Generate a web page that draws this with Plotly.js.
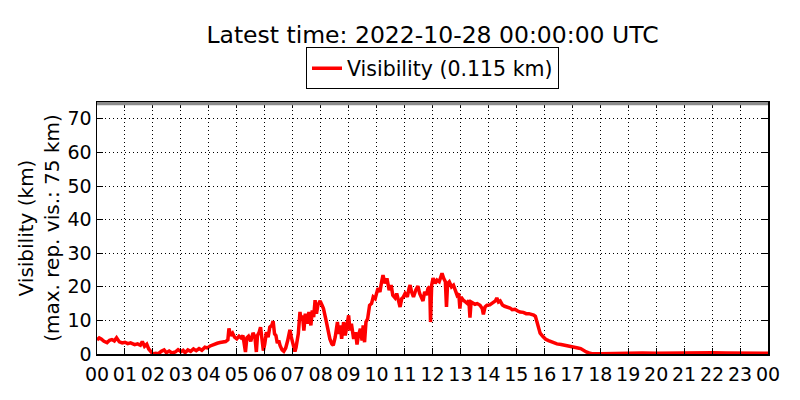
<!DOCTYPE html>
<html>
<head>
<meta charset="utf-8">
<script src="https://cdn.plot.ly/plotly-3.0.1.min.js"></script>
<style>
  body { margin: 0; background: #fff; }
  #grafico { width: 800px; height: 400px; }
</style>
</head>
<body>
<div id="grafico"></div>
<script>
// horas del día (UTC) y visibilidad (km)
const horas = [
  0.00, 0.08, 0.15, 0.25, 0.36, 0.45, 0.53, 0.62, 0.70, 0.80, 0.90, 1.00, 1.10, 1.20, 1.35, 1.45,
  1.55, 1.62, 1.70, 1.78, 1.85, 1.92, 2.00, 2.10, 2.20, 2.30, 2.40, 2.48, 2.58, 2.68, 2.80, 2.90,
  3.00, 3.08, 3.15, 3.25, 3.35, 3.45, 3.55, 3.65, 3.75, 3.86, 3.95, 4.05, 4.20, 4.30, 4.40, 4.50,
  4.60, 4.68, 4.72, 4.78, 4.85, 4.92, 5.00, 5.08, 5.15, 5.22, 5.28, 5.31, 5.36, 5.42, 5.50, 5.58,
  5.65, 5.70, 5.74, 5.80, 5.85, 5.90, 5.95, 6.00, 6.06, 6.12, 6.18, 6.25, 6.30, 6.35, 6.40, 6.45,
  6.50, 6.55, 6.62, 6.68, 6.75, 6.82, 6.90, 6.95, 7.00, 7.04, 7.08, 7.12, 7.20, 7.26, 7.30, 7.35,
  7.40, 7.45, 7.52, 7.58, 7.65, 7.70, 7.75, 7.80, 7.85, 7.90, 7.98, 8.05, 8.10, 8.18, 8.25, 8.33,
  8.40, 8.45, 8.52, 8.60, 8.65, 8.70, 8.75, 8.82, 8.88, 8.95, 9.00, 9.05, 9.10, 9.18, 9.25, 9.30,
  9.35, 9.42, 9.48, 9.52, 9.57, 9.62, 9.68, 9.75, 9.82, 9.88, 9.95, 10.05, 10.12, 10.18, 10.23, 10.30,
  10.37, 10.45, 10.52, 10.58, 10.66, 10.72, 10.78, 10.84, 10.90, 10.96, 11.02, 11.10, 11.16, 11.20, 11.25, 11.32,
  11.40, 11.48, 11.54, 11.60, 11.66, 11.72, 11.78, 11.84, 11.90, 11.93, 11.97, 12.02, 12.10, 12.16, 12.24, 12.30,
  12.34, 12.40, 12.46, 12.50, 12.54, 12.60, 12.68, 12.75, 12.80, 12.88, 12.94, 12.98, 13.02, 13.10, 13.18, 13.25,
  13.30, 13.34, 13.38, 13.45, 13.52, 13.60, 13.70, 13.78, 13.82, 13.88, 13.95, 14.05, 14.15, 14.25, 14.30, 14.36,
  14.42, 14.50, 14.58, 14.66, 14.77, 14.85, 14.95, 15.05, 15.13, 15.25, 15.35, 15.45, 15.55, 15.62, 15.68, 15.74,
  15.80, 15.85, 15.95, 16.05, 16.15, 16.30, 16.45, 16.60, 16.75, 16.90, 17.05, 17.20, 17.30, 17.40, 17.50, 17.60,
  17.70, 18.00, 18.50, 19.00, 19.50, 20.00, 20.50, 21.00, 21.50, 22.00, 22.50, 23.00, 23.50, 24.00
];
const visibilidad = [
  4.2, 4.8, 4.5, 3.8, 3.4, 4.1, 4.3, 3.9, 4.8, 3.6, 3.3, 3.5, 3.1, 3.3, 2.8, 3.0,
  2.6, 3.7, 2.3, 2.9, 1.5, 0.6, 0.0, 0.2, 0.1, 0.8, 1.2, 0.4, 0.9, 0.3, 0.6, 1.3,
  0.7, 1.1, 0.4, 1.2, 0.8, 1.5, 1.0, 1.6, 1.1, 2.0, 1.8, 2.4, 3.0, 3.2, 3.4, 3.5,
  3.7, 4.2, 7.6, 5.5, 6.2, 5.0, 4.5, 5.3, 4.8, 5.5, 2.5, 0.6, 4.8, 5.3, 3.8, 6.3,
  5.0, 0.6, 5.5, 6.5, 8.0, 5.2, 1.0, 3.0, 6.5, 5.0, 8.0, 8.5, 9.8, 6.0, 5.5, 3.2,
  4.0, 2.5, 1.2, 0.8, 1.8, 4.0, 7.2, 5.0, 3.5, 1.5, 0.7, 2.0, 6.0, 12.5, 10.0, 11.5,
  7.0, 12.0, 9.0, 12.5, 8.5, 13.0, 11.0, 16.0, 12.0, 14.5, 15.8, 14.5, 13.5, 10.5, 7.5, 4.5,
  3.0, 2.6, 5.0, 9.5, 6.0, 8.5, 4.5, 9.5, 5.5, 9.0, 11.5, 7.0, 9.0, 4.5, 6.5, 2.8,
  5.5, 7.5, 4.0, 8.5, 3.5, 9.5, 10.5, 14.5, 15.0, 17.0, 16.5, 19.6, 18.5, 21.5, 23.5, 21.0,
  22.5, 19.0, 20.5, 17.5, 16.7, 18.0, 15.5, 14.0, 16.5, 17.0, 18.0, 17.0, 19.5, 20.5, 18.5, 17.0,
  19.0, 20.2, 18.0, 17.0, 15.8, 18.5, 17.5, 19.5, 20.0, 9.5, 20.5, 22.6, 21.0, 22.0, 21.5, 23.0,
  24.0, 22.5, 21.5, 14.0, 21.0, 21.5, 20.0, 20.5, 19.0, 17.5, 18.0, 13.5, 17.0, 16.0, 15.5, 15.0,
  16.0, 10.8, 15.5, 15.0, 14.8, 15.0, 14.5, 13.5, 11.8, 14.0, 14.5, 14.6, 15.2, 15.8, 16.7, 15.5,
  15.8, 14.6, 14.2, 14.0, 13.7, 13.2, 13.3, 12.8, 12.5, 12.4, 12.0, 12.0, 11.8, 11.6, 11.2, 9.2,
  7.5, 6.2, 5.2, 4.4, 4.0, 3.5, 3.0, 2.8, 2.6, 2.3, 2.1, 1.8, 1.6, 1.0, 0.6, 0.3,
  0.1, 0.1, 0.2, 0.2, 0.3, 0.2, 0.3, 0.2, 0.3, 0.4, 0.3, 0.3, 0.2, 0.2
];

// etiquetas del eje x
const horasTicks = [];
const etiquetasTicks = [];
for (let h = 0; h <= 24; h++) {
    horasTicks.push(h);
    etiquetasTicks.push(String(h % 24).padStart(2, "0"));
}
const valoresY = [0, 10, 20, 30, 40, 50, 60, 70];
const visMaxima = 75;

const fuente = "DejaVu Sans, sans-serif";

var traza = {
    x: horas,
    y: visibilidad,
    type: 'scatter',
    mode: 'lines',
    name: 'Visibility (0.115 km)',
    line: { color: '#ff0000', width: 3.5 }
};

var ejeComun = {
    showline: true,
    linecolor: '#000',
    linewidth: 1.5,
    mirror: 'ticks',
    ticks: 'inside',
    ticklen: 6,
    tickcolor: '#000',
    showgrid: true,
    gridcolor: '#000',
    gridwidth: 1,
    griddash: '1px,3px',
    zeroline: false,
    tickfont: { family: fuente, size: 19, color: '#000' }
};

var layout = {
    width: 800,
    height: 400,
    margin: { l: 97, r: 32, t: 102, b: 46 },
    paper_bgcolor: '#fff',
    plot_bgcolor: '#fff',
    font: { family: fuente, color: '#000' },
    title: {
        text: 'Latest time: 2022-10-28 00:00:00 UTC',
        font: { family: fuente, size: 23.5, color: '#000' },
        x: 0.5, xref: 'paper', xanchor: 'center',
        y: 0.9125, yref: 'container', yanchor: 'middle'
    },
    showlegend: true,
    legend: {
        x: 0.5, xanchor: 'center',
        y: 1.05, yanchor: 'bottom',
        bordercolor: '#000',
        borderwidth: 1,
        bgcolor: '#fff',
        font: { family: fuente, size: 20.5, color: '#000' }
    },
    xaxis: Object.assign({}, ejeComun, {
        range: [0, 24],
        tickmode: 'array',
        tickvals: horasTicks,
        ticktext: etiquetasTicks,
        tickfont: { family: fuente, size: 19, color: '#000' },
        ticklabelstandoff: 3
    }),
    yaxis: Object.assign({}, ejeComun, {
        range: [0, visMaxima],
        tickmode: 'array',
        tickvals: valoresY,
        title: {
            text: 'Visibility (km)<br>(max. rep. vis.: 75 km)',
            font: { family: fuente, size: 20, color: '#000' },
            standoff: 2
        }
    }),
    // franja gris en el máximo representable
    shapes: [{
        type: 'rect', xref: 'paper', yref: 'y',
        x0: 0, x1: 1, y0: visMaxima - 1.0, y1: visMaxima,
        fillcolor: '#8c8c8c',
        line: { width: 0 },
        layer: 'above'
    }]
};

Plotly.newPlot('grafico', [traza], layout, { staticPlot: true, displayModeBar: false });
</script>
</body>
</html>
